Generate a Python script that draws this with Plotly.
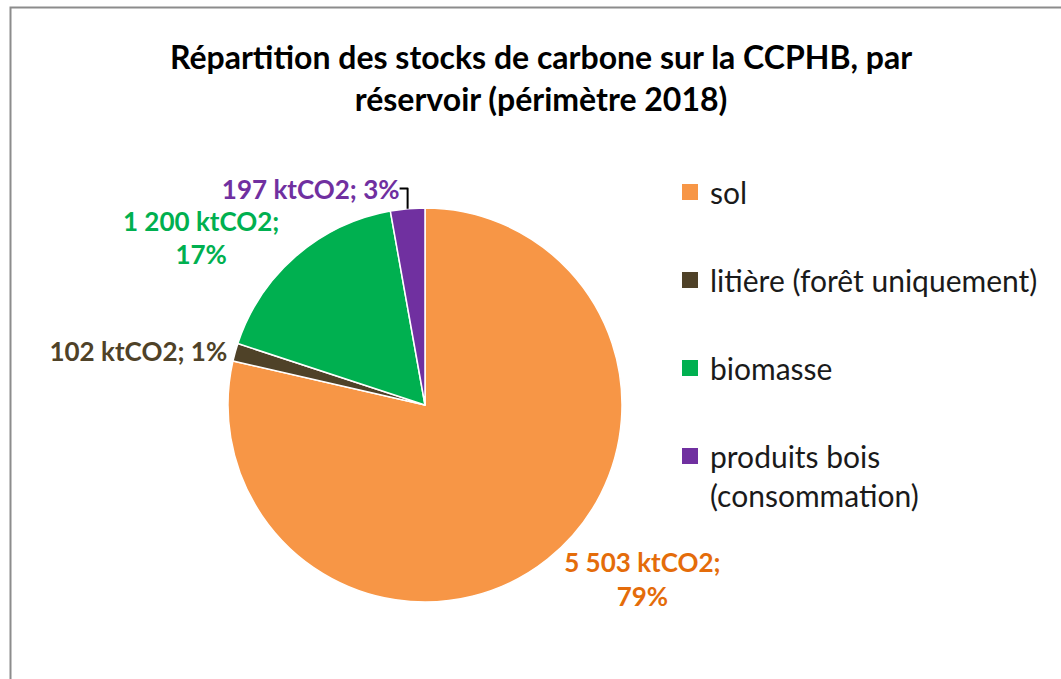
import plotly.graph_objects as go

categories = ["sol", "litière (forêt uniquement)", "biomasse", "produits bois<br>(consommation)"]
values = [5503, 102, 1200, 197]
slice_colors = ["#F79646", "#4F4228", "#00B050", "#7030A0"]
label_colors = ["#E46C0A", "#4F4228", "#00B050", "#7030A0"]
label_breaks = ["<br>", " ", "<br>", " "]
title_text = "Répartition des stocks de carbone sur la CCPHB, par<br>réservoir (périmètre 2018)"

total = sum(values)
texts = []
for v, br in zip(values, label_breaks):
    vs = f"{v:,}".replace(",", " ")
    pct = round(v / total * 100)
    texts.append(f"{vs} ktCO2;{br}{pct}%")

FONT = "Lato"
W, H = 1061, 679
cx, cy, r = 425, 405, 197

fig = go.Figure()
fig.add_trace(go.Pie(
    labels=categories,
    values=values,
    text=texts,
    texttemplate="%{text}",
    textposition="outside",
    sort=False,
    direction="clockwise",
    rotation=0,
    marker=dict(colors=slice_colors, line=dict(color="white", width=1.5)),
    outsidetextfont=dict(family=FONT, size=26, color=label_colors, weight="bold"),
    showlegend=False,
    domain=dict(x=[cx / W - 0.2, cx / W + 0.2], y=[1 - (cy + r) / H, 1 - (cy - r) / H]),
    hoverinfo="label+value+percent",
))

for i, (name, col) in enumerate(zip(categories, slice_colors)):
    fig.add_trace(go.Scatter(
        x=[None], y=[None], mode="markers", name=name,
        marker=dict(symbol="square", size=16, color=col),
        legendgroup=f"g{i}", showlegend=True,
    ))

fig.update_layout(
    width=W, height=H,
    margin=dict(l=0, r=0, t=0, b=0, autoexpand=False),
    paper_bgcolor="white", plot_bgcolor="white",
    xaxis=dict(visible=False), yaxis=dict(visible=False),
    title=dict(text=title_text, x=541 / W, xanchor="center", xref="paper",
               y=1 - 69 / H, yanchor="middle", yref="container",
               font=dict(family=FONT, size=32, color="#000000", weight="bold")),
    legend=dict(x=670 / W, xanchor="left", y=1 - 166 / H, yanchor="top",
                font=dict(family=FONT, size=30, color="#1a1a1a"),
                bgcolor="rgba(0,0,0,0)",
                tracegroupgap=46, valign="top", itemclick=False, itemdoubleclick=False),
    shapes=[dict(type="rect", xref="paper", yref="paper",
                 x0=10.5 / W, x1=1.05, y0=-0.05, y1=1 - 7.5 / H,
                 line=dict(color="#8c8c8c", width=2), fillcolor="rgba(0,0,0,0)", layer="above")],
)

fig.write_html("out.html", config={"displayModeBar": False},
               post_script="document.body.style.margin='0';")
